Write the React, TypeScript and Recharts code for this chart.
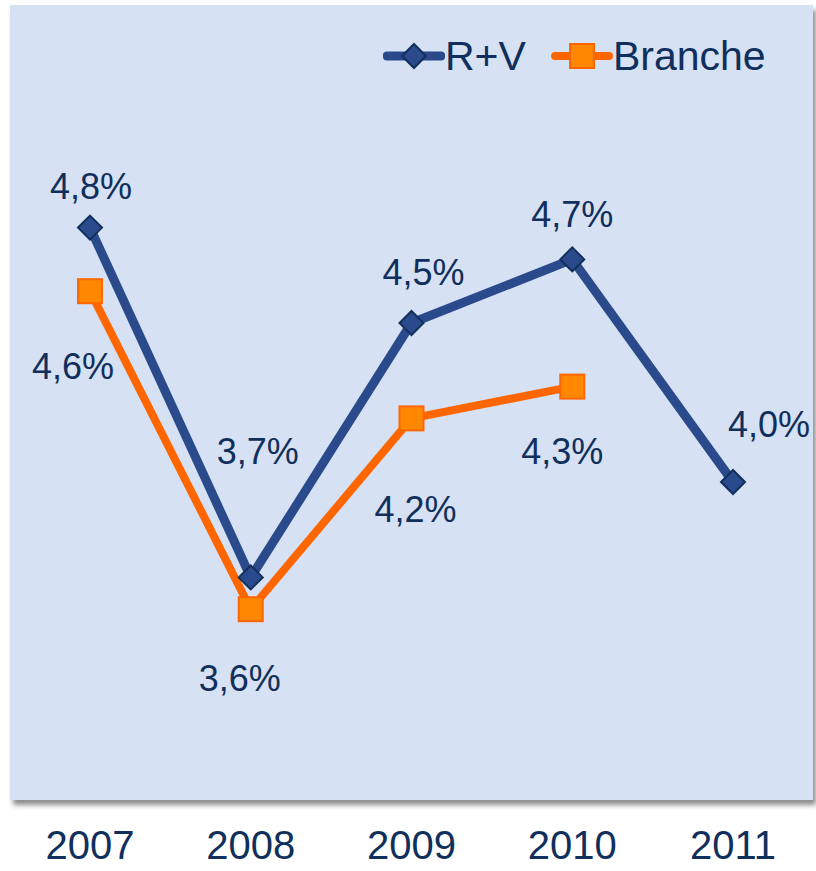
import React from 'react';
import { LineChart, Line, XAxis, YAxis, Legend } from 'recharts';

const years = ['2007', '2008', '2009', '2010', '2011'];
const rvValues = [4.8, 3.7, 4.5, 4.7, 4.0];
const brancheValues: (number | null)[] = [4.6, 3.6, 4.2, 4.3, null];

// label placement relative to the point (text center)
const rvLabelOffsets = [[1, -41], [7, -126], [12, -51], [0, -45], [36, -58]];
const brancheLabelOffsets = [[-17, 75], [-11, 69], [4, 91], [-10, 65], [0, 0]];

const data = years.map((year, i) => ({ year, rv: rvValues[i], branche: brancheValues[i] }));

const FONT = '"Liberation Sans", Arial, sans-serif';
const TEXT = '#102f5c';
const BLUE = '#2a4a8c';
const ORANGE = '#ff6600';
const BG = '#d6e1f3';

const fmt = (v: number) => `${v.toFixed(1).replace('.', ',')}%`;

const makeLabel = (offsets: number[][]) => (props: any) => {
  const { x, y, value, index } = props;
  if (value == null || x == null || y == null) return null;
  const [dx, dy] = offsets[index] || [0, 0];
  return (
    <text
      x={x + dx}
      y={y + dy}
      textAnchor="middle"
      dominantBaseline="central"
      fontSize={36}
      fontFamily={FONT}
      fill={TEXT}
    >
      {fmt(value)}
    </text>
  );
};

const Diamond = ({ cx, cy }: { cx: number; cy: number }) => (
  <path
    d={`M${cx},${cy - 12} L${cx + 12},${cy} L${cx},${cy + 12} L${cx - 12},${cy} Z`}
    fill="#2b4a8e"
    stroke="#10305a"
    strokeWidth={2}
  />
);

const Square = ({ cx, cy }: { cx: number; cy: number }) => (
  <rect x={cx - 12} y={cy - 12} width={24} height={24} fill="#ff8800" stroke={ORANGE} strokeWidth={2} />
);

const renderDot = (kind: 'diamond' | 'square') => (props: any) => {
  const { cx, cy, key, value } = props;
  if (cx == null || cy == null || value == null) return <g key={key} />;
  return (
    <g key={key}>
      {kind === 'diamond' ? <Diamond cx={cx} cy={cy} /> : <Square cx={cx} cy={cy} />}
    </g>
  );
};

const LegendContent = () => (
  <div style={{ display: 'flex', alignItems: 'center', fontFamily: FONT, fontSize: 41, color: TEXT, lineHeight: '46px' }}>
    <svg width={62} height={30}>
      <line x1={4} y1={15} x2={58} y2={15} stroke={BLUE} strokeWidth={9} strokeLinecap="round" />
      <Diamond cx={31} cy={15} />
    </svg>
    <span style={{ marginRight: 25 }}>R+V</span>
    <svg width={62} height={30}>
      <line x1={4} y1={15} x2={58} y2={15} stroke={ORANGE} strokeWidth={8} strokeLinecap="round" />
      <Square cx={31} cy={15} />
    </svg>
    <span>Branche</span>
  </div>
);

export default function App() {
  return (
    <div style={{ position: 'absolute', left: 0, top: 0, width: 816, height: 871, background: '#fff' }}>
      <div
        style={{
          position: 'absolute',
          left: 10,
          top: 5,
          width: 803,
          height: 795,
          background: BG,
          boxShadow: '3px 5px 5px rgba(0,0,0,0.45)',
        }}
      />
      <div style={{ position: 'absolute', left: 0, top: 0 }}>
        <LineChart width={816} height={871} data={data} margin={{ top: 5, right: 3, left: 10, bottom: 0 }}>
          <XAxis
            dataKey="year"
            axisLine={false}
            tickLine={false}
            height={71}
            tickMargin={25}
            padding={{ left: 80, right: 80 }}
            tick={{ fontSize: 40, fill: TEXT, fontFamily: FONT }}
            interval={0}
          />
          <YAxis hide domain={[3, 5.5]} />
          <Legend
            layout="horizontal"
            verticalAlign="middle"
            align="center"
            content={<LegendContent />}
            wrapperStyle={{ top: 33, left: 383, width: 420 }}
          />
          <Line
            dataKey="branche"
            stroke={ORANGE}
            strokeWidth={8}
            dot={renderDot('square')}
            activeDot={false}
            label={makeLabel(brancheLabelOffsets)}
            isAnimationActive={false}
          />
          <Line
            dataKey="rv"
            stroke={BLUE}
            strokeWidth={9}
            dot={renderDot('diamond')}
            activeDot={false}
            label={makeLabel(rvLabelOffsets)}
            isAnimationActive={false}
          />
        </LineChart>
      </div>
    </div>
  );
}
